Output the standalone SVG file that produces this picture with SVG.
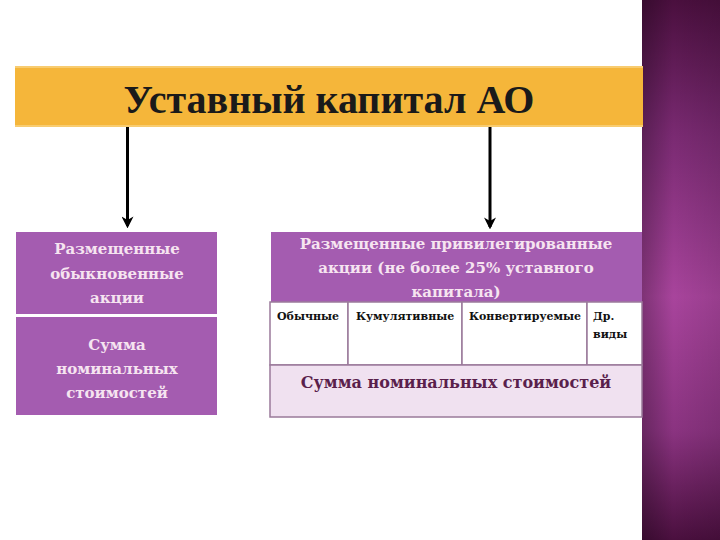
<svg xmlns="http://www.w3.org/2000/svg" width="720" height="540" viewBox="0 0 720 540">
<defs>
<linearGradient id="band" x1="0" y1="0" x2="0" y2="1">
<stop offset="0" stop-color="#4a0f3e"/>
<stop offset="0.25" stop-color="#7a2a72"/>
<stop offset="0.55" stop-color="#a8449c"/>
<stop offset="0.8" stop-color="#8a3380"/>
<stop offset="1" stop-color="#4a0f3e"/>
</linearGradient>
<linearGradient id="bandh" x1="0" y1="0" x2="1" y2="0">
<stop offset="0" stop-color="#000" stop-opacity="0.25"/>
<stop offset="0.4" stop-color="#000" stop-opacity="0"/>
<stop offset="1" stop-color="#000" stop-opacity="0.1"/>
</linearGradient>
<marker id="arr" viewBox="0 0 10 10" refX="8" refY="5" markerWidth="4" markerHeight="4" orient="auto">
<path d="M0,0 L10,5 L0,10 L3,5 Z" fill="#000"/>
</marker>
<style>
.t{font-family:"DejaVu Serif","Liberation Serif",serif;font-weight:bold;text-anchor:middle}
.tt{font-family:"Liberation Serif","DejaVu Serif",serif;font-weight:bold;text-anchor:middle}
.lt{fill:#f6e4f0;font-size:15px}
.hd{fill:#111;font-size:11px;text-anchor:start}
.cell{fill:#ffffff;stroke:#9a7a9a;stroke-width:1.5}
.pur{fill:#a45cb0}
</style>
</defs>
<rect width="720" height="540" fill="#ffffff"/>
<rect x="642" y="0" width="78" height="540" fill="url(#band)"/>
<rect x="642" y="0" width="78" height="540" fill="url(#bandh)"/>

<g id="title">
<rect x="15" y="66" width="628" height="61" fill="#f5b63a"/>
<rect x="15" y="66" width="628" height="2" fill="#f8cc70"/>
<rect x="15" y="125" width="628" height="2" fill="#f8cc70"/>
<text class="tt" x="329" y="113" font-size="40" fill="#1a1a1a">Уставный капитал АО</text>
</g>

<g id="connectors" stroke="#000" stroke-width="3" fill="none">
<line x1="127.5" y1="127" x2="127.5" y2="226" marker-end="url(#arr)"/>
<line x1="490" y1="127" x2="490" y2="227" marker-end="url(#arr)"/>
</g>

<g id="ordinary">
<rect class="pur" x="16" y="232" width="201" height="82"/>
<text class="t lt" x="117" y="254">Размещенные</text>
<text class="t lt" x="117" y="279">обыкновенные</text>
<text class="t lt" x="117" y="303">акции</text>
</g>

<g id="ordinary-sum">
<rect class="pur" x="16" y="317" width="201" height="98"/>
<text class="t lt" x="117" y="350">Сумма</text>
<text class="t lt" x="117" y="374">номинальных</text>
<text class="t lt" x="117" y="398">стоимостей</text>
</g>

<g id="preferred">
<rect class="pur" x="271" y="232" width="371" height="70"/>
<text class="t lt" x="456" y="249">Размещенные привилегированные</text>
<text class="t lt" x="456" y="273">акции (не более 25% уставного</text>
<text class="t lt" x="456" y="297">капитала)</text>
</g>

<g id="types">
<rect class="cell" x="270" y="302" width="78" height="63"/>
<rect class="cell" x="348" y="302" width="114" height="63"/>
<rect class="cell" x="462" y="302" width="125" height="63"/>
<rect class="cell" x="587" y="302" width="55" height="63"/>
<text class="t hd" x="277" y="320">Обычные</text>
<text class="t hd" x="356" y="320">Кумулятивные</text>
<text class="t hd" x="469" y="320">Конвертируемые</text>
<text class="t hd" x="593" y="320">Др.</text>
<text class="t hd" x="593" y="338">виды</text>
</g>

<g id="preferred-sum">
<rect x="270" y="365" width="372" height="52" fill="#f0e1f0" stroke="#9a7a9a" stroke-width="1.5"/>
<text class="t" x="456" y="388" font-size="16" fill="#5a1f4c">Сумма номинальных стоимостей</text>
</g>
</svg>
